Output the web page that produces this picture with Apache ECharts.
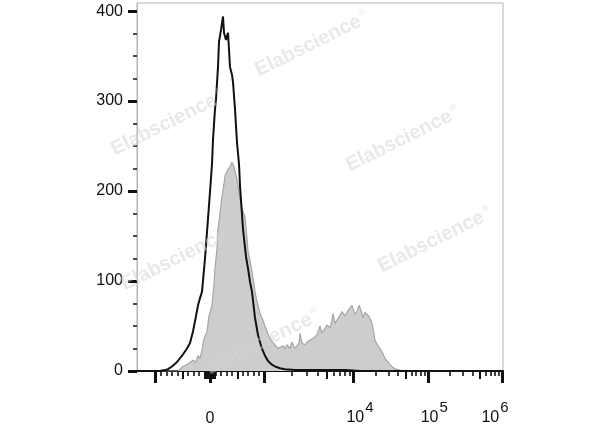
<!DOCTYPE html>
<html><head><meta charset="utf-8">
<script src="https://cdn.jsdelivr.net/npm/echarts@6/dist/echarts.min.js"></script>
<style>html,body{margin:0;padding:0;background:#fff}#c{width:600px;height:427px}</style>
</head><body><div id="c"></div>
<script>
// display channel (0..366) vs count
const grayX = [0,41,46,51,56,59,61,63,65,67,70,72,75,77,78,80,81,83,85,87,88,91,93,95,97,98,100,101,103,105,108,110,111,113,115,117,118,120,121,123,125,128,130,133,135,138,141,143,146,148,150,153,155,156,158,160,162,163,165,168,171,173,176,180,183,185,187,190,193,195,196,198,200,203,205,206,208,210,212,213,215,216,218,220,222,223,225,226,228,230,232,235,237,238,240,243,246,248,251,253,256,259,263,268,366];
const grayY = [0,0,5,8,12,10,17,14,23,36,44,61,73,97,114,136,158,175,194,208,217,224,227,232,227,222,213,206,191,180,172,147,133,123,110,97,88,77,73,64,59,50,44,36,33,29,25,23,28,25,29,25,32,34,25,23,31,42,31,29,33,31,36,40,50,42,44,51,48,56,64,53,55,62,66,67,61,62,69,70,73,73,63,66,73,72,64,59,65,67,61,53,41,34,30,25,19,14,10,7,4,2,1,0,0];
const blackX = [0,23,28,31,35,40,45,50,53,56,59,61,63,65,68,71,73,75,76,78,79,81,82,84,86,87,89,90,91,92,93,95,96,98,100,102,103,106,109,111,113,115,118,121,124,126,128,131,135,138,143,148,158,173,193,208,223,366];
const blackY = [0,0,1,2,5,10,17,25,31,44,61,73,81,88,125,169,199,230,257,291,302,338,366,379,394,376,368,370,376,357,338,329,321,291,254,230,206,158,127,114,99,88,59,40,28,22,17,11,7,5,3,2,1,1,1,1,0,0];
// axis ticks (fluorescence values) and labels
const xMajorTicks = [-1000, 0, 1000, 1e4, 1e5, 1e6];
const xLabelValues = [0, 1e4, 1e5, 1e6];
const xLabelTexts = ['{a|0}', '{b|10}{s|4}', '{b|10}{s|5}', '{n|10}{c|6}'];
const yTicks = [0, 100, 200, 300, 400];
const yMinorTicks = [25,50,75,125,150,175,225,250,275,325,350,375];
const watermarks = [[168,123],[312,44],[403,139],[435,240],[178,258],[263,342]];

function toCh(v){
  if (Math.abs(v) <= 1000) return 73 + v*0.0545;
  if (v <= 1e4) return 127.5 + 89*Math.log10(v/1000);
  return 216.5 + 74.25*(Math.log10(v)-4);
}
const xMedium = [], xMinor = [];
for (let k=1;k<=9;k++){
  (k===5?xMedium:xMinor).push(-k*100, k*100, k*1000, k*1e4, k*1e5);
  xMedium.push(-k*10, k*10);
}
const isMajor = v => xMajorTicks.indexOf(v) >= 0;
const medCh = xMedium.filter(v=>!isMajor(v)).map(toCh);
const minCh = xMinor.filter(v=>!isMajor(v)).map(toCh);
const majCh = xMajorTicks.map(toCh);
const labCh = xLabelValues.map(toCh);

const font = 'Liberation Sans, Arial, sans-serif';
const ink = '#111';
const grid = {left:137, right:97, top:3, bottom:54, show:true, borderColor:'#b4b4b4', borderWidth:1, backgroundColor:'transparent'};
function tickAxis(vals, len, w){
  return {type:'value', min:0, max:366, gridIndex:0, position:'bottom', axisLine:{show:false, onZero:false}, splitLine:{show:false},
    axisLabel:{show:false}, axisTick:{show:true, inside:false, length:len, customValues:vals, lineStyle:{color:ink, width:w}}};
}
const rs = (extra)=>Object.assign({fontSize:16, fontFamily:font, color:ink, verticalAlign:'bottom'}, extra||{});
const chart = echarts.init(document.getElementById('c'), null, {renderer:'canvas'});
chart.setOption({
  animation:false,
  grid,
  xAxis:[
    {type:'value', min:0, max:366, position:'bottom', axisLine:{show:true, onZero:false, lineStyle:{color:ink, width:2}}, splitLine:{show:false},
      axisTick:{show:true, inside:false, length:12, customValues:majCh, lineStyle:{color:ink, width:3}},
      axisLabel:{show:true, customValues:labCh, margin:29, color:ink, fontFamily:font, fontSize:16,
        formatter:(v)=>{const i=labCh.findIndex(c=>Math.abs(c-v)<1e-6);return i<0?'':xLabelTexts[i];},
        rich:{a:rs({padding:[11,0,0,0]}),
              b:rs({padding:[0,0,0,13]}),
              n:rs(),
              s:rs({fontSize:15, padding:[0,0,11,1]}),
              c:rs({fontSize:15, padding:[0,14,11,1]})}}},
    tickAxis(medCh, 8, 2),
    tickAxis(minCh, 5, 1.6)
  ],
  yAxis:[
    {type:'value', min:0, max:409, position:'left', axisLine:{show:true, onZero:false, lineStyle:{color:'#b4b4b4', width:1}}, splitLine:{show:false},
      axisTick:{show:true, inside:false, length:9, customValues:yTicks, lineStyle:{color:ink, width:3}},
      axisLabel:{show:true, customValues:yTicks, margin:14, color:ink, fontFamily:font, fontSize:16}},
    {type:'value', min:0, max:409, position:'left', axisLine:{show:false, onZero:false}, splitLine:{show:false}, axisLabel:{show:false},
      axisTick:{show:true, inside:false, length:4, customValues:yMinorTicks, lineStyle:{color:ink, width:1.5}}}
  ],
  series:[
    {type:'line', xAxisIndex:0, yAxisIndex:0, data:grayX.map((x,i)=>[x,grayY[i]]), showSymbol:false, symbol:'none',
      lineStyle:{color:'#a6a6a6', width:1.2}, areaStyle:{color:'#cdcdcd', opacity:1}, z:2},
    {type:'line', xAxisIndex:0, yAxisIndex:0, data:blackX.map((x,i)=>[x,blackY[i]]), showSymbol:false, symbol:'none',
      lineStyle:{color:ink, width:2}, z:3}
  ],
  graphic: watermarks.map(p=>({type:'text', x:p[0], y:p[1], rotation:0.46, z:100, silent:true,
    style:{text:'Elabscience{r|®}', font:'bold 20px '+font, fill:'rgba(212,212,212,0.5)', align:'center', verticalAlign:'middle',
      rich:{r:{fontSize:9, fill:'rgba(212,212,212,0.5)', verticalAlign:'top', padding:[0,0,12,2]}}}}))
});
</script></body></html>
